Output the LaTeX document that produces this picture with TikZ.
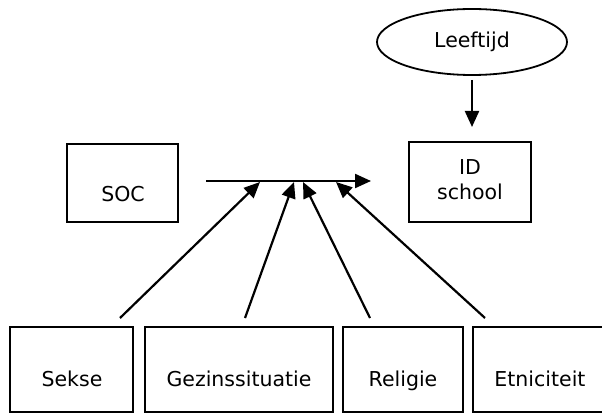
\documentclass[tikz,border=0pt]{standalone}
\usepackage{fontspec}
\setmainfont{DejaVu Sans}
\usetikzlibrary{arrows.meta}
\begin{document}
\begin{tikzpicture}[x=1pt,y=-1pt,
  box/.style={draw, line width=2pt, inner sep=0pt},
  lbl/.style={inner sep=0pt, anchor=base, font=\fontsize{20.5}{24}\selectfont},
  arr/.style={line width=2.2pt, -{Triangle[length=16pt,width=14pt]}}]
\clip (0,0) rectangle (602,414);
\fill[white] (0,0) rectangle (602,414);
% top ellipse
\draw[line width=1.8pt] (472,42) ellipse [x radius=95, y radius=33];
\coordinate (leeftijd) at (472,42);
\coordinate (leeftijdS) at (472,75);
\node[lbl] (tleeft) at (472,48) {Leeftijd};
% boxes
\node[box, minimum width=111pt, minimum height=78pt] (soc) at (122.5,183) {};
\node[lbl] (tsoc) at (123,202) {SOC};
\node[box, minimum width=122pt, minimum height=80pt] (id) at (470,182) {};
\node[lbl] (tid1) at (470,175) {ID};
\node[lbl] (tid2) at (470,200) {school};
\node[box, minimum width=123pt, minimum height=85pt] (sekse) at (71.5,369.5) {};
\node[lbl] (tsekse) at (72,386) {Sekse};
\node[box, minimum width=188pt, minimum height=85pt] (gezin) at (239,369.5) {};
\node[lbl] (tgezin) at (239,386) {Gezinssituatie};
\node[box, minimum width=120pt, minimum height=85pt] (religie) at (403,369.5) {};
\node[lbl] (treligie) at (403,386) {Religie};
\node[box, minimum width=134pt, minimum height=85pt] (etni) at (540,369.5) {};
\node[lbl] (tetni) at (540,386) {Etniciteit};
% connectors
\draw[arr] ([yshift=-5pt]leeftijdS) -- ([yshift=14pt]leeftijdS |- id.north);
\coordinate (h1) at (206,181);
\coordinate (h2) at (371,181);
\draw[arr] (h1) -- (h2);
\coordinate (t1) at (260,182);
\coordinate (t2) at (294,182);
\coordinate (t3) at (303,182);
\coordinate (t4) at (336,182);
\coordinate (s1) at (120,318);
\coordinate (s2) at (245,318);
\coordinate (s3) at (370,318);
\coordinate (s4) at (485,318);
\draw[arr] (s1) -- (t1);
\draw[arr] (s2) -- (t2);
\draw[arr] (s3) -- (t3);
\draw[arr] (s4) -- (t4);
\end{tikzpicture}
\end{document}
